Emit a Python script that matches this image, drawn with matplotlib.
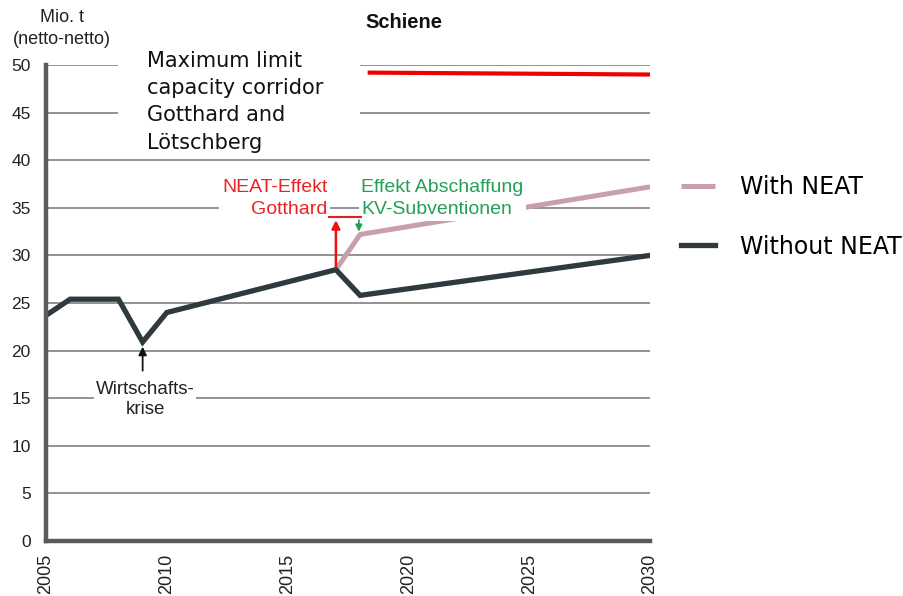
import matplotlib
matplotlib.use("Agg")
import matplotlib.pyplot as plt
from matplotlib.patches import Rectangle

years_without = [2005, 2006, 2008, 2009, 2010, 2017, 2018, 2030]
without_neat = [23.7, 25.4, 25.4, 20.9, 24.0, 28.5, 25.8, 30.0]
years_with = [2017, 2018, 2030]
with_neat = [28.5, 32.2, 37.2]
years_limit = [2018.4, 2030]
limit_vals = [49.2, 49.0]
yticks = [0, 5, 10, 15, 20, 25, 30, 35, 40, 45, 50]
xticks = [2005, 2010, 2015, 2020, 2025, 2030]

ARIAL = ["Liberation Sans", "DejaVu Sans"]
VERD = ["DejaVu Sans"]

W, H = 904, 596
fig = plt.figure(figsize=(9.04, 5.96), dpi=100)
ax = fig.add_axes([46/W, 1-541/H, (650-46)/W, (541-65)/H])
ax.set_xlim(2005, 2030)
ax.set_ylim(0, 50)

for y in yticks[1:]:
    ax.axhline(y, color="#8a8a8a", lw=1.3, zorder=1)

for s in ["top", "right"]:
    ax.spines[s].set_visible(False)
for s in ["left", "bottom"]:
    ax.spines[s].set_color("#5a5a5a")
    ax.spines[s].set_linewidth(3.2)
    ax.spines[s].set_zorder(6)

ax.set_yticks(yticks)
ax.set_xticks(xticks)
ax.tick_params(axis="y", length=0, pad=11, labelsize=12.5, colors="#222222")
ax.tick_params(axis="x", length=0, pad=9, labelsize=13, colors="#222222", labelrotation=90)
for lab in ax.get_xticklabels() + ax.get_yticklabels():
    lab.set_family(ARIAL)

l_with, = ax.plot(years_with, with_neat, color="#c9a0aa", lw=3.6, zorder=3,
                  solid_capstyle="butt", label="With NEAT")
l_without, = ax.plot(years_without, without_neat, color="#2f3a3e", lw=3.8, zorder=4,
                     solid_joinstyle="miter", label="Without NEAT")
ax.plot(years_limit, limit_vals, color="#ee0000", lw=3.0, zorder=3)

# white mask behind the capacity note (figure pixel box)
fig.patches.append(Rectangle((118/W, 1-156/H), (360-118)/W, (156-48)/H,
                             transform=fig.transFigure, facecolor="white",
                             edgecolor="none", zorder=5))
ax.set_zorder(1)
fig.text(147/W, 1-51/H, "Maximum limit\ncapacity corridor\nGotthard and\nLötschberg",
         family=VERD, fontsize=15, va="top", ha="left", linespacing=1.45, color="#111111",
         zorder=7)

ax.text(2016.65, 33.95, "NEAT-Effekt\nGotthard", family=ARIAL, fontsize=14, color="#ee2222",
        ha="right", va="bottom", linespacing=1.4,
        bbox=dict(facecolor="white", edgecolor="none", pad=2), zorder=5)
ax.text(2018.05, 33.95, "Effekt Abschaffung\nKV-Subventionen", family=ARIAL, fontsize=14,
        color="#22a055", ha="left", va="bottom", linespacing=1.4,
        bbox=dict(facecolor="white", edgecolor="none", pad=2), zorder=5)

ax.text(2009.1, 14.9, "Wirtschafts-\nkrise", family=ARIAL, fontsize=13.5, color="#222222",
        ha="center", va="center", linespacing=1.25,
        bbox=dict(facecolor="white", edgecolor="none", pad=1), zorder=5)

# annotations
ax.annotate("", xy=(2009, 20.7), xytext=(2009, 17.6),
            arrowprops=dict(arrowstyle="-|>", color="#111111", lw=1.3, mutation_scale=12), zorder=6)
ax.plot([2016.7, 2018.05], [34.0, 34.0], color="#dd2222", lw=1.5, zorder=6)
ax.annotate("", xy=(2017.0, 34.0), xytext=(2017.0, 28.5),
            arrowprops=dict(arrowstyle="-|>", color="#ee1111", lw=1.8, mutation_scale=12), zorder=6)
ax.annotate("", xy=(2017.95, 32.2), xytext=(2017.95, 34.0),
            arrowprops=dict(arrowstyle="-|>", color="#22a055", lw=1.2, mutation_scale=10), zorder=6)

fig.text(62/W, 1-18/H, "Mio. t", family=ARIAL, fontsize=13, ha="center", va="center", color="#222222")
fig.text(62/W, 1-39/H, "(netto-netto)", family=ARIAL, fontsize=13, ha="center", va="center", color="#222222")
fig.text(404/W, 1-22/H, "Schiene", family=ARIAL, fontsize=14.5, fontweight="bold",
         ha="center", va="center", color="#111111")

ax.legend(handles=[l_with, l_without], loc="upper left", bbox_to_anchor=(660/W, 1-154/H),
          bbox_transform=fig.transFigure, frameon=False, handlelength=1.45,
          handletextpad=1.05, labelspacing=1.5, prop={"family": VERD, "size": 17})

fig.savefig("out.png", dpi=100)
